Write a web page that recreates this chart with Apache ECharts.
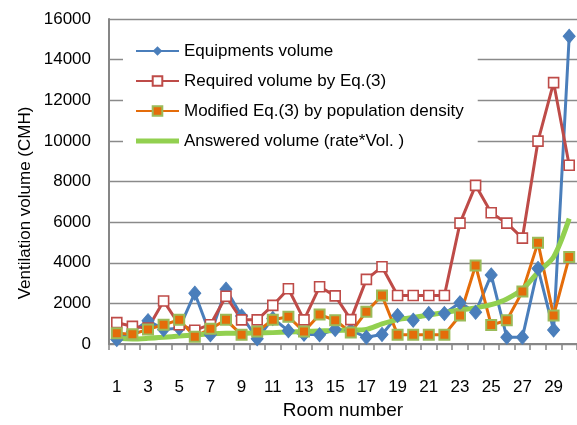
<!DOCTYPE html>
<html>
<head>
<meta charset="utf-8">
<script src="https://cdn.jsdelivr.net/npm/echarts@6/dist/echarts.min.js"></script>
<style>
html,body{margin:0;padding:0;background:#fff;}
#chart{width:577px;height:425px;}
</style>
</head>
<body>
<div id="chart"></div>
<script>
var categories = ['1','2','3','4','5','6','7','8','9','10','11','12','13','14','15','16','17','18','19','20','21','22','23','24','25','26','27','28','29','30'];
var equipmentsVolume = [220, 600, 1150, 720, 770, 2500, 450, 2700, 1380, 260, 1260, 650, 480, 450, 720, 680, 330, 470, 1400, 1170, 1500, 1500, 2030, 1560, 3400, 330, 330, 3720, 690, 15150];
var requiredVolume = [1050, 870, 780, 2120, 950, 680, 950, 2350, 1190, 1190, 1900, 2720, 1190, 2820, 2370, 1200, 3180, 3800, 2390, 2390, 2390, 2390, 5950, 7810, 6460, 5950, 5210, 9990, 12870, 8800];
var modifiedVolume = [530, 480, 720, 950, 1190, 360, 750, 1190, 450, 620, 1190, 1340, 610, 1450, 1170, 570, 1590, 2390, 460, 460, 460, 460, 1400, 3870, 930, 1170, 2580, 4990, 1400, 4280];
var answeredVolume = [280, 250, 280, 330, 390, 440, 500, 530, 530, 545, 560, 590, 610, 640, 670, 680, 720, 990, 1200, 1310, 1430, 1550, 1670, 1780, 1940, 2220, 2700, 3530, 4280, 6170];
var yTicks = {min: 0, max: 16000, interval: 2000};

var FONT = '"Liberation Sans", Arial, sans-serif';
var chart = echarts.init(document.getElementById('chart'), null, {renderer: 'canvas'});
chart.setOption({
  animation: false,
  backgroundColor: '#ffffff',
  textStyle: {fontFamily: FONT},
  grid: {left: 109, top: 19, width: 469, height: 338, containLabel: false},
  legend: {
    left: 123, top: 25,
    orient: 'vertical',
    backgroundColor: '#ffffff',
    padding: [16, 14, 14, 12],
    itemWidth: 43, itemHeight: 12, itemGap: 10,
    textStyle: {fontFamily: FONT, fontSize: 17, color: '#000', lineHeight: 20},
    data: [
      {name: 'Equipments volume'},
      {name: 'Required volume by Eq.(3)'},
      {name: 'Modified Eq.(3) by population density'},
      {name: 'Answered volume (rate*Vol. )', icon: 'path://M0,0 L0.01,0 M0,3.5 L43,3.5 L43,8.5 L0,8.5 Z M43,12 L42.99,12', itemStyle: {color: '#92D050', borderWidth: 0}}
    ]
  },
  graphic: [{
    type: 'text', x: 25, y: 203, rotation: Math.PI / 2,
    style: {text: 'Ventilation volume (CMH)', fontFamily: FONT, fontSize: 17, fill: '#000', align: 'center', verticalAlign: 'middle'}
  }],
  xAxis: {
    type: 'category', data: categories, boundaryGap: true,
    name: 'Room number', nameLocation: 'middle', nameGap: 57,
    nameTextStyle: {fontFamily: FONT, fontSize: 19, color: '#000'},
    axisLine: {lineStyle: {color: '#868686', width: 2}},
    axisTick: {show: true, interval: 0, length: 6, lineStyle: {color: '#868686', width: 1.5}},
    axisLabel: {interval: 1, margin: 35, fontFamily: FONT, fontSize: 17, color: '#000'},
    splitLine: {show: false}
  },
  yAxis: {
    type: 'value', min: yTicks.min, max: yTicks.max, interval: yTicks.interval,
    axisLine: {show: true, lineStyle: {color: '#868686', width: 2}},
    axisTick: {show: false},
    axisLabel: {margin: 18, fontFamily: FONT, fontSize: 17, color: '#000', formatter: function (v) { return String(v); }},
    splitLine: {show: true, lineStyle: {color: '#8a8a8a', width: 1.3}}
  },
  series: [
    {
      name: 'Equipments volume', type: 'line', data: equipmentsVolume,
      symbol: 'diamond', symbolSize: [12, 14], showAllSymbol: true,
      lineStyle: {color: '#4A7EBB', width: 3},
      itemStyle: {color: '#4A7EBB', borderColor: '#4A7EBB'}
    },
    {
      name: 'Required volume by Eq.(3)', type: 'line', data: requiredVolume,
      symbol: 'rect', symbolSize: 10, showAllSymbol: true,
      lineStyle: {color: '#BE4B48', width: 3},
      itemStyle: {color: '#ffffff', borderColor: '#BE4B48', borderWidth: 1.6}
    },
    {
      name: 'Modified Eq.(3) by population density', type: 'line', data: modifiedVolume,
      symbol: 'rect', symbolSize: 10, showAllSymbol: true,
      lineStyle: {color: '#E46C0A', width: 3},
      itemStyle: {color: '#E46C0A', borderColor: '#9BBB59', borderWidth: 2}
    },
    {
      name: 'Answered volume (rate*Vol. )', type: 'line', data: answeredVolume,
      symbol: 'none', smooth: 0.3,
      lineStyle: {color: '#92D050', width: 5},
      itemStyle: {color: '#92D050'}
    }
  ]
});
</script>
</body>
</html>
